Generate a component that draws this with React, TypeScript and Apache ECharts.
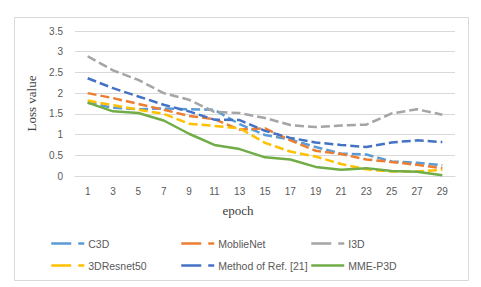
import React, { useEffect, useRef } from "react";
import * as echarts from "echarts";

const epochs = ["1", "3", "5", "7", "9", "11", "13", "15", "17", "19", "21", "23", "25", "27", "29"];
const c3d = [1.77, 1.65, 1.61, 1.63, 1.61, 1.6, 1.25, 0.99, 0.88, 0.7, 0.54, 0.52, 0.35, 0.32, 0.26];
const mobileNet = [2.0, 1.88, 1.74, 1.6, 1.45, 1.37, 1.12, 1.15, 0.86, 0.61, 0.53, 0.4, 0.34, 0.27, 0.19];
const i3d = [2.89, 2.55, 2.32, 2.0, 1.84, 1.55, 1.52, 1.4, 1.23, 1.18, 1.22, 1.24, 1.51, 1.61, 1.48];
const resnet50 = [1.82, 1.71, 1.6, 1.5, 1.26, 1.21, 1.15, 0.8, 0.59, 0.47, 0.29, 0.16, 0.11, 0.11, 0.15];
const methodRef21 = [2.36, 2.12, 1.92, 1.72, 1.56, 1.36, 1.35, 1.09, 0.92, 0.81, 0.75, 0.7, 0.81, 0.86, 0.82];
const mmeP3D = [1.77, 1.56, 1.52, 1.34, 1.02, 0.75, 0.65, 0.45, 0.4, 0.22, 0.15, 0.19, 0.12, 0.1, 0.02];

const names = ["C3D", "MoblieNet", "I3D", "3DResnet50", "Method of Ref. [21]", "MME-P3D"];
const colors = ["#5B9BD5", "#ED7D31", "#A5A5A5", "#FFC000", "#4472C4", "#70AD47"];
const values = [c3d, mobileNet, i3d, resnet50, methodRef21, mmeP3D];
const yTicks = { min: 0, max: 3.5, interval: 0.5 };

export default function App() {
  const ref = useRef<HTMLDivElement>(null);
  useEffect(() => {
    document.body.style.margin = "0";
    const chart = echarts.init(ref.current!, undefined, { renderer: "svg" });
    const series = names.map((n, i) => ({
      name: n,
      type: "line",
      data: values[i],
      symbol: "none",
      lineStyle: { color: colors[i], width: 2.5, type: i === 5 ? "solid" : [9, 4] },
      itemStyle: { color: colors[i] },
    }));
    const legendItem = (i: number) => ({
      name: names[i],
      itemStyle: { opacity: 0, borderWidth: 0 },
      lineStyle: { type: i === 5 ? "solid" : [20, 7, 6, 7], width: 2.5, color: colors[i] },
    });
    const legendBase = {
      orient: "vertical",
      top: 238,
      padding: 0,
      itemWidth: 33,
      itemHeight: 10,
      itemGap: 11,
      textStyle: { fontFamily: "Liberation Sans, Arial, sans-serif", fontSize: 10.5, color: "#595959", padding: [0, 0, 0, -1] },
      selectedMode: false,
    };
    chart.setOption({
      animation: false,
      grid: { left: 75, right: 26, top: 31, bottom: 111 },
      graphic: [
        { type: "rect", shape: { x: 14.5, y: 17.5, width: 454, height: 263 }, style: { fill: "none", stroke: "#D9D9D9", lineWidth: 1 } },
        {
          type: "text",
          x: 238,
          y: 210,
          style: { text: "epoch", fontFamily: "Liberation Serif, Times New Roman, serif", fontSize: 13, fill: "#404040", align: "center", verticalAlign: "middle" },
        },
      ],
      legend: [
        { ...legendBase, left: 50, data: [legendItem(0), legendItem(3)] },
        { ...legendBase, left: 180, data: [legendItem(1), legendItem(4)] },
        { ...legendBase, left: 310, data: [legendItem(2), legendItem(5)] },
      ],
      xAxis: {
        type: "category",
        data: epochs,
        boundaryGap: true,
        axisLine: { show: true, lineStyle: { color: "#D9D9D9" } },
        axisTick: { show: false },
        axisLabel: { color: "#595959", fontFamily: "Liberation Sans, Arial, sans-serif", fontSize: 10, margin: 10, interval: 0 },
      },
      yAxis: {
        type: "value",
        min: yTicks.min,
        max: yTicks.max,
        interval: yTicks.interval,
        name: "Loss value",
        nameLocation: "middle",
        nameGap: 36,
        nameTextStyle: { fontFamily: "Liberation Serif, Times New Roman, serif", fontSize: 13, color: "#404040" },
        axisLine: { show: false },
        axisTick: { show: false },
        splitLine: { lineStyle: { color: "#D9D9D9", width: 1 } },
        axisLabel: { color: "#595959", fontFamily: "Liberation Sans, Arial, sans-serif", fontSize: 10, margin: 12 },
      },
      series,
    });
    return () => chart.dispose();
  }, []);
  return <div ref={ref} style={{ width: 481, height: 287 }} />;
}
